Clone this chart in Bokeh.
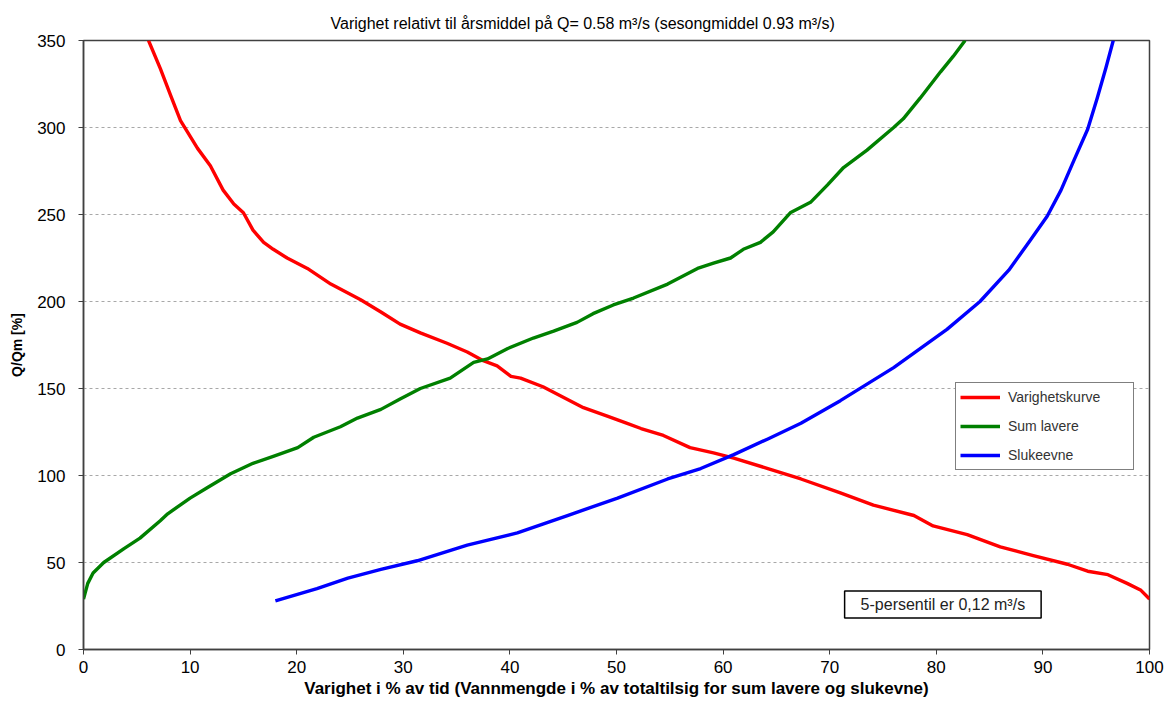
from bokeh.plotting import figure
from bokeh.models import Legend, LegendItem, Label, FixedTicker, Range1d
from bokeh.embed import file_html
from bokeh.resources import INLINE

title_text = "Varighet relativt til årsmiddel på Q= 0.58 m³/s (sesongmiddel 0.93 m³/s)"
x_label = "Varighet i % av tid (Vannmengde i % av totaltilsig for sum lavere og slukevne)"
y_label = "Q/Qm [%]"
note_text = "5-persentil er 0,12 m³/s"

x_ticks = [0, 10, 20, 30, 40, 50, 60, 70, 80, 90, 100]
y_ticks = [0, 50, 100, 150, 200, 250, 300, 350]

# Varighetskurve (red)
red_x = [6.1, 7.2, 8.2, 9.1, 10.7, 11.9, 13.1, 14.1, 15.0, 15.9, 16.9, 17.8, 19.1, 21.0,
         23.2, 26.0, 27.9, 29.7, 31.6, 34.1, 36.0, 37.5, 38.8, 40.1, 41.0, 43.1, 45.0,
         46.9, 49.2, 51.0, 52.3, 54.4, 56.9, 59.1, 61.0, 64.2, 67.3, 71.0, 74.1, 77.9,
         79.7, 82.9, 86.0, 89.1, 92.3, 94.2, 96.1, 97.9, 99.2, 100.0]
red_y = [350, 334, 318, 304, 288, 278, 264, 256, 251, 241, 234, 230, 225, 219,
         210, 201, 194, 187, 182, 176, 171, 166, 163, 157, 156, 151, 145,
         139, 134, 130, 127, 123, 116, 113, 110, 104, 98, 90, 83, 77,
         71, 66, 59, 54, 49, 45, 43, 38, 34, 29]

# Sum lavere (green)
green_x = [0.0, 0.4, 0.9, 1.9, 3.8, 5.3, 7.2, 7.9, 10.0, 11.6, 13.8, 15.9, 17.8, 20.1,
           21.6, 24.1, 25.7, 27.9, 29.7, 31.6, 34.4, 36.6, 37.9, 39.8, 42.2, 44.1,
           46.3, 47.8, 49.7, 51.6, 54.8, 57.6, 59.1, 60.7, 61.9, 63.5, 64.7, 66.3,
           68.2, 69.8, 71.3, 73.5, 76.0, 76.9, 78.5, 80.4, 81.6, 82.7]
green_y = [29, 38, 44, 50, 58, 64, 74, 78, 87, 93, 101, 107, 111, 116,
           122, 128, 133, 138, 144, 150, 156, 165, 167, 173, 179, 183,
           188, 193, 198, 202, 210, 219, 222, 225, 230, 234, 240, 251,
           257, 267, 277, 287, 300, 305, 317, 332, 341, 350]

# Slukeevne (blue)
blue_x = [18.0, 21.9, 24.8, 27.9, 31.3, 36.0, 40.7, 45.4, 50.1, 54.8, 57.9, 61.0,
          64.2, 67.3, 71.0, 76.0, 81.0, 84.1, 86.8, 88.8, 90.4, 91.7, 92.9, 94.2,
          95.1, 95.9, 96.6]
blue_y = [28, 35, 41, 46, 51, 60, 67, 77, 87, 98, 104, 112,
          121, 130, 143, 162, 184, 200, 218, 235, 249, 264, 281, 299,
          317, 334, 350]

series_names = ["Varighetskurve", "Sum lavere", "Slukeevne"]
series_colors = ["#ff0000", "#008000", "#0000ff"]

FONT = "Liberation Sans"

p = figure(width=1174, height=711, output_backend="svg", toolbar_location=None,
           x_range=Range1d(0, 100), y_range=Range1d(0, 350),
           min_border_left=83, min_border_right=25, min_border_top=40, min_border_bottom=62)
p.background_fill_color = "white"
p.border_fill_color = "white"
p.outline_line_color = "#404040"
p.outline_line_width = 1.5

p.title.text = title_text
p.title.align = "left"
p.title.text_font = FONT
p.title.text_font_size = "16px"
p.title.text_font_style = "normal"
p.title.text_color = "black"
p.title.offset = 247
p.title.standoff = 18

for ax in (p.xaxis[0], p.yaxis[0]):
    ax.axis_line_color = "#404040"
    ax.axis_line_width = 1.5
    ax.major_tick_line_color = "#404040"
    ax.major_tick_out = 5
    ax.major_tick_in = 0
    ax.minor_tick_out = 0
    ax.minor_tick_in = 0
    ax.major_label_text_font = FONT
    ax.major_label_text_font_size = "17px"
    ax.major_label_text_color = "black"
    ax.axis_label_text_font = FONT
    ax.axis_label_text_font_style = "bold"
    ax.axis_label_text_color = "black"

p.xaxis.ticker = FixedTicker(ticks=x_ticks)
p.yaxis.ticker = FixedTicker(ticks=y_ticks)
p.xaxis.axis_label = x_label
p.xaxis.axis_label_text_font_size = "17px"
p.xaxis.major_label_standoff = 6
p.xaxis.axis_label_standoff = 3
p.yaxis.axis_label = y_label
p.yaxis.axis_label_text_font_size = "14px"
p.yaxis.major_label_standoff = 13
p.yaxis.axis_label_standoff = 9

p.xgrid.visible = False
p.ygrid.grid_line_color = "#a8a8a8"
p.ygrid.grid_line_dash = "3 3"
p.ygrid.grid_line_width = 1

renderers = []
for xs, ys, c in zip([red_x, green_x, blue_x], [red_y, green_y, blue_y], series_colors):
    r = p.line(xs, ys, line_color=c, line_width=3.4, line_join="round")
    renderers.append(r)

legend = Legend(items=[LegendItem(label=n, renderers=[r]) for n, r in zip(series_names, renderers)],
                location=(872, 179), orientation="vertical",
                padding=4, spacing=9, glyph_width=40, glyph_height=20, label_height=20,
                label_standoff=8, label_width=121,
                label_text_font=FONT, label_text_font_size="14px", label_text_color="#333333",
                border_line_color="black", border_line_width=1.5,
                background_fill_color="white", background_fill_alpha=1.0, margin=0)
p.add_layout(legend)

note = Label(x=71.4, y=25.9, text=note_text, text_font=FONT, text_font_size="16px",
             text_color="#222222", text_baseline="middle", text_align="left",
             border_line_color="black", border_line_width=1.5,
             background_fill_color="white", background_fill_alpha=1.0,
             padding=dict(left=16, right=16, top=5, bottom=5))
p.add_layout(note)

open("out.html", "w").write(file_html(p, INLINE))
